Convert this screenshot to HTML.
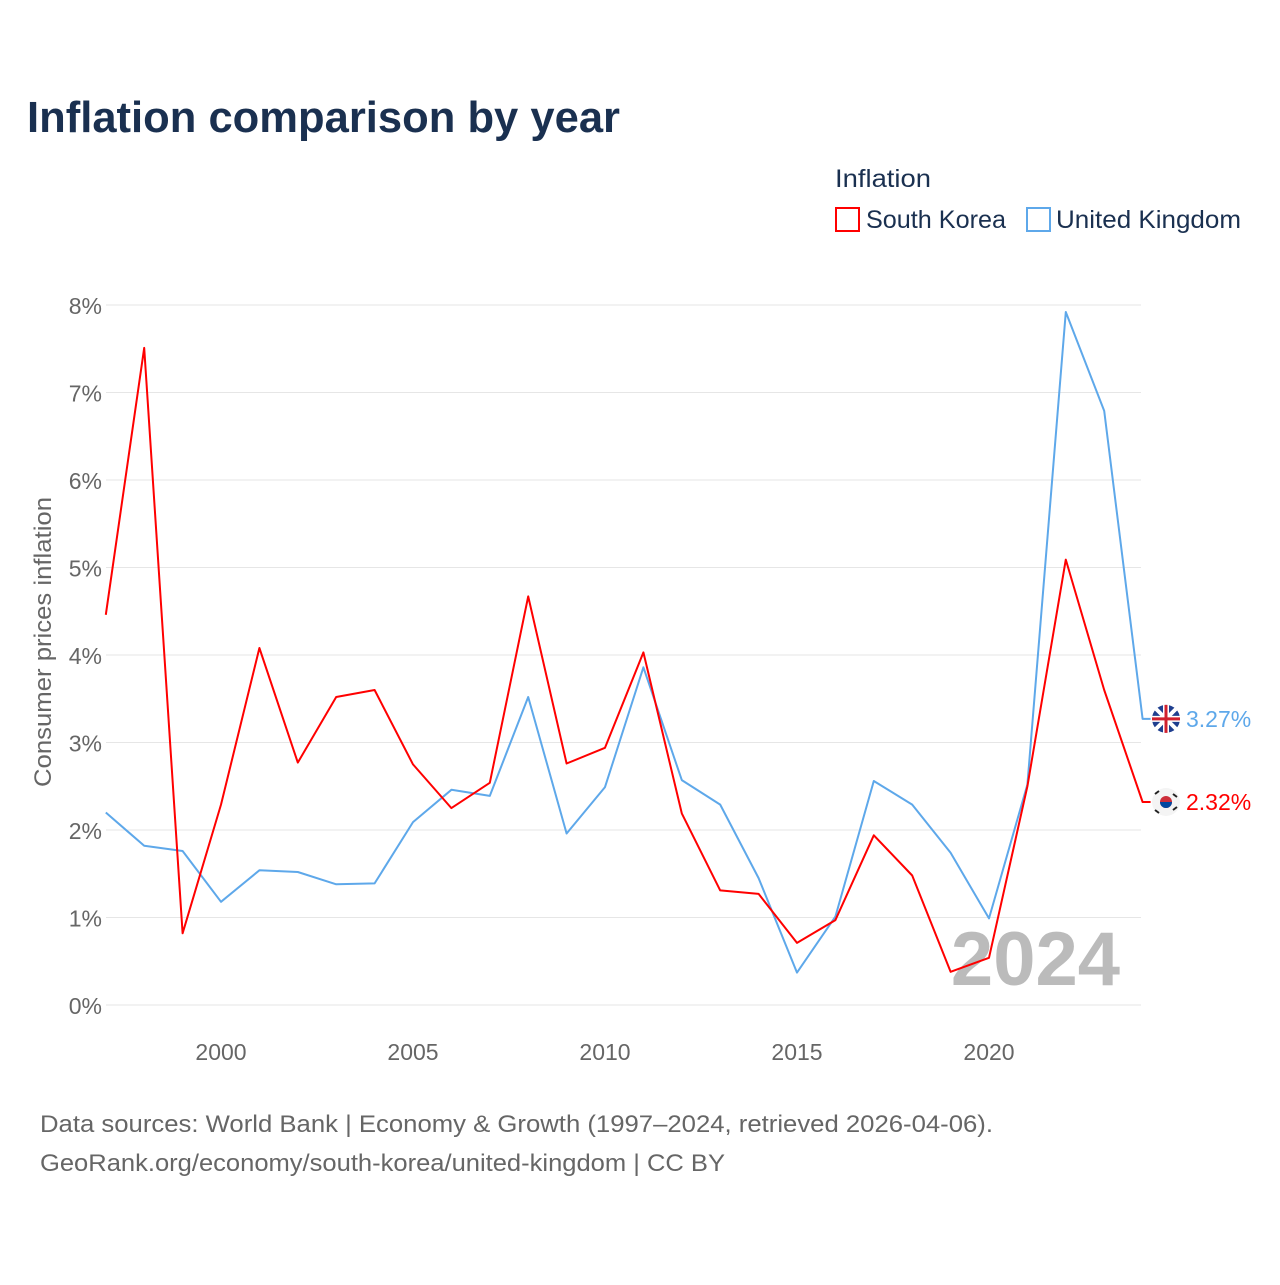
<!DOCTYPE html>
<html><head><meta charset="utf-8"><style>
body{margin:0;background:#fff;font-family:"Liberation Sans",sans-serif}
svg text{font-family:"Liberation Sans",sans-serif}
</style></head><body>
<svg id="chart" width="1280" height="1280" viewBox="0 0 1280 1280" xmlns="http://www.w3.org/2000/svg">
<rect width="1280" height="1280" fill="#fff"/>
<text x="27" y="132" font-size="44" font-weight="bold" fill="#1a3050" textLength="593" lengthAdjust="spacingAndGlyphs">Inflation comparison by year</text>
<text x="835" y="187" font-size="25" fill="#1a3050" textLength="96" lengthAdjust="spacingAndGlyphs">Inflation</text>
<g>
<rect x="836" y="208" width="23" height="23" fill="none" stroke="#f00" stroke-width="2"/>
<text x="866" y="228" font-size="25" fill="#1a3050" textLength="140" lengthAdjust="spacingAndGlyphs">South Korea</text></g>
<g>
<rect x="1027" y="208" width="23" height="23" fill="none" stroke="#5ea8ea" stroke-width="2"/>
<text x="1056" y="228" font-size="25" fill="#1a3050" textLength="185" lengthAdjust="spacingAndGlyphs">United Kingdom</text></g>
<g id="grid"></g>
<g id="yticks"></g>
<g id="xticks"></g>
<text transform="translate(51,642) rotate(-90)" text-anchor="middle" font-size="24" fill="#666" textLength="290" lengthAdjust="spacingAndGlyphs">Consumer prices inflation</text>
<text x="1120" y="985" text-anchor="end" font-size="76" font-weight="bold" fill="#bbb">2024</text>
<g id="series"></g>
<text x="40" y="1132" font-size="24" fill="#666" textLength="953" lengthAdjust="spacingAndGlyphs">Data sources: World Bank | Economy &amp; Growth (1997–2024, retrieved 2026-04-06).</text>
<text x="40" y="1171" font-size="24" fill="#666" textLength="685" lengthAdjust="spacingAndGlyphs">GeoRank.org/economy/south-korea/united-kingdom | CC BY</text>
</svg>
<script>
const years=[1997,1998,1999,2000,2001,2002,2003,2004,2005,2006,2007,2008,2009,2010,2011,2012,2013,2014,2015,2016,2017,2018,2019,2020,2021,2022,2023,2024];
const korea=[4.46,7.51,0.82,2.29,4.08,2.77,3.52,3.60,2.75,2.25,2.54,4.67,2.76,2.94,4.03,2.19,1.31,1.27,0.71,0.97,1.94,1.48,0.38,0.54,2.50,5.09,3.60,2.32];
const uk=[2.20,1.82,1.76,1.18,1.54,1.52,1.38,1.39,2.09,2.46,2.39,3.52,1.96,2.49,3.86,2.57,2.29,1.45,0.37,1.01,2.56,2.29,1.74,0.99,2.52,7.92,6.79,3.27];
const yTicks=[0,1,2,3,4,5,6,7,8];
const xTicks=[2000,2005,2010,2015,2020];
const NS="http://www.w3.org/2000/svg";
const X=y=>221+(y-2000)*38.4;
const Y=v=>1005-v*87.5;
function mk(t,a,p){const e=document.createElementNS(NS,t);for(const k in a)e.setAttribute(k,a[k]);p.appendChild(e);return e;}
const grid=document.getElementById('grid'),yt=document.getElementById('yticks'),xt=document.getElementById('xticks'),ser=document.getElementById('series');
yTicks.forEach(v=>{
 const l=mk('line',{x1:106,x2:1141,y1:Y(v),y2:Y(v),stroke:'#e6e6e6','stroke-width':1},grid);
 
 
 const t=mk('text',{x:102,y:Y(v)+9,'text-anchor':'end','font-size':23,fill:'#666'},yt);
 t.textContent=v+'%';
 
 
});
xTicks.forEach(v=>{
 const t=mk('text',{x:X(v),y:1060,'text-anchor':'middle','font-size':23,fill:'#666'},xt);
 t.textContent=v;
 
 
});
function line(vals,col,name){
 const d=vals.map((v,i)=>(i?'L':'M')+X(years[i]).toFixed(1)+','+Y(v).toFixed(1)).join('')+'L'+(X(years[years.length-1])+8)+','+Y(vals[vals.length-1]).toFixed(1);
 const p=mk('path',{d:d,fill:'none',stroke:col,'stroke-width':2,'stroke-linejoin':'round'},ser);
 
 
}
line(uk,'#5ea8ea','uk-line');
line(korea,'#ff0000','south-korea-line');
function endLabel(vals,col,name,flag){
 const v=vals[vals.length-1],y=Y(v);
 const g=mk('g',{},ser);
 
 
 if(flag==='uk'){
  mk('circle',{cx:1166,cy:y,r:14,fill:'#1f3f8f'},g);
  mk('path',{d:`M1156,${y-10}L1176,${y+10}M1176,${y-10}L1156,${y+10}`,stroke:'#fff','stroke-width':4},g);
  mk('path',{d:`M1152,${y}H1180M1166,${y-14}V${y+14}`,stroke:'#fff','stroke-width':6},g);
  mk('path',{d:`M1152,${y}H1180M1166,${y-14}V${y+14}`,stroke:'#d0202e','stroke-width':3},g);
 }else{
  mk('circle',{cx:1166,cy:y,r:14,fill:'#f4f4f4'},g);
  mk('circle',{cx:1166,cy:y,r:6,fill:'#cd2e3a'},g);
  mk('path',{d:`M1160,${y}a6,6 0 0 0 12,0z`,fill:'#0047a0'},g);
  mk('path',{d:`M1155,${y-8}l4,-3M1173,${y+8}l4,-3M1173,${y-8}l4,3M1155,${y+8}l4,3`,stroke:'#222','stroke-width':2},g);
 }
 const t=mk('text',{x:1186,y:y+8,'font-size':23,fill:col},g);
 t.textContent=v.toFixed(2)+'%';
}
endLabel(uk,'#5ea8ea','uk-end-label','uk');
endLabel(korea,'#ff0000','south-korea-end-label','kr');
</script>
</body></html>
